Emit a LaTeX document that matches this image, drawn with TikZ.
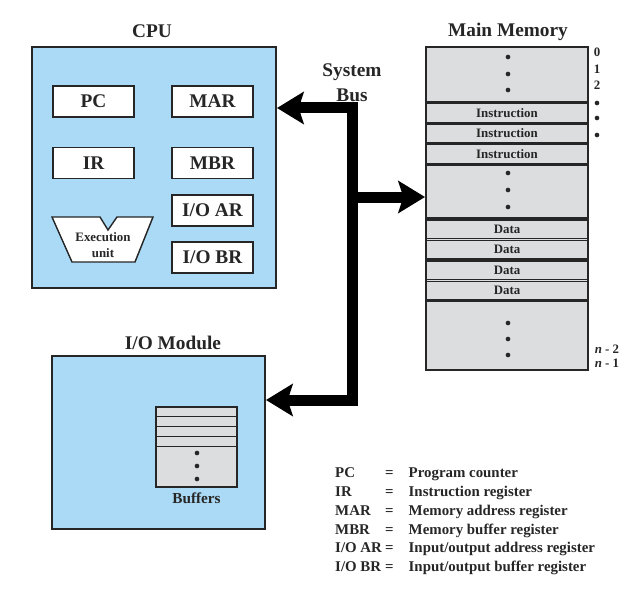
\documentclass[tikz,border=0pt]{standalone}
\usepackage{fontspec}
\setmainfont{Liberation Serif}
\usetikzlibrary{arrows.meta, positioning}
\definecolor{cpublue}{RGB}{170,218,245}
\definecolor{memgray}{RGB}{220,221,222}
\definecolor{ink}{RGB}{38,38,38}
\tikzset{
  title/.style = {font=\fontsize{16.5}{21}\selectfont\bfseries, text=ink,
                  align=center, inner sep=0},
  unit/.style  = {draw=ink, fill=cpublue, line width=1.7pt, inner sep=0},
  reg/.style   = {draw=ink, fill=white, line width=1.2pt, minimum width=2.43cm,
                  minimum height=0.93cm, inner sep=0,
                  font=\fontsize{16.5}{20}\selectfont\bfseries, text=ink},
  cell/.style  = {draw=ink, fill=memgray, line width=1.1pt, minimum width=4.86cm,
                  inner sep=0, font=\fontsize{11}{13}\selectfont\bfseries, text=ink},
  small/.style = {font=\fontsize{11}{13}\selectfont\bfseries, text=ink,
                  inner sep=0, align=center},
  dot/.style   = {circle, fill=ink, inner sep=0, minimum size=4pt},
  bus/.style   = {line width=0.33cm, black, line join=miter},
  head/.tip    = {Stealth[length=0.8cm, width=0.96cm, inset=0.15cm]}
}

\begin{document}
\begin{tikzpicture}[x=0.03cm, y=-0.03cm]
    \useasboundingbox (0,0) rectangle (636,590);

    % CPU
    \node[title] (cputitle) at (152,31) {CPU};
    \node[unit, minimum width=7.32cm, minimum height=7.23cm] (cpu) at (154,167.5) {};
    \node[reg] (pc)   at (93.5,101.5)  {PC};
    \node[reg] (mar)  at (212.5,101.5) {MAR};
    \node[reg] (ir)   at (93.5,163)    {IR};
    \node[reg] (mbr)  at (212.5,163)   {MBR};
    \node[reg] (ioar) at (212.5,210.5) {I/O AR};
    \node[reg] (iobr) at (212.5,257.5) {I/O BR};
    \draw[draw=ink, fill=white, line width=1.2pt]
        (52,217) -- (100,217) -- (108,230) -- (117,217) -- (153,217)
        -- (135,262) -- (72,262) -- cycle;
    \node[small] (exec) at (103,245) {Execution\\unit};

    % Main memory
    \node[title] (memtitle) at (508,32) {Main Memory};
    \node[unit, fill=memgray, minimum width=4.86cm, minimum height=9.69cm] (mem) at (507,208.5) {};
    \node[cell, minimum height=1.65cm] (blocka) at (507,74.5) {};
    \foreach \y [count=\i] in {113.25,133.5,153.75}
        \node[cell, minimum height=0.57cm] (ins\i) at (507,\y) {Instruction};
    \node[cell, minimum height=1.59cm] (blockb) at (507,191.5) {};
    \foreach \y [count=\i] in {229.25,249.75,270.25,290.75}
        \node[cell, minimum height=0.555cm] (dat\i) at (507,\y) {Data};
    \node[cell, minimum height=2.055cm] (blockc) at (507,335.75) {};
    \foreach \y in {57,74,90,173,190,207,323,339,355}
        \node[dot] at (508,\y) {};

    % addresses
    \node[small] (a0) at (597,52) {0};
    \node[small] (a1) at (597,69) {1};
    \node[small] (a2) at (597,85) {2};
    \foreach \y in {103,118,135}
        \node[dot] at (597,\y) {};
    \node[small] (an2) at (607,349) {\textit{n} - 2};
    \node[small] (an1) at (607,363) {\textit{n} - 1};

    % I/O module
    \node[title] (iotitle) at (173,343) {I/O Module};
    \node[unit, minimum width=6.39cm, minimum height=5.19cm] (io) at (158.5,442.5) {};
    \node[draw=ink, fill=memgray, line width=1.1pt, minimum width=2.43cm,
          minimum height=2.4cm, inner sep=0] (buf) at (196.5,447) {};
    \foreach \d in {0.3,0.6,0.9,1.2}
        \draw[ink, line width=1.1pt] ([yshift=-\d cm]buf.north west) -- ([yshift=-\d cm]buf.north east);
    \foreach \y in {453,466,479}
        \node[dot] at (197,\y) {};
    \node[small, font=\fontsize{13}{15}\selectfont\bfseries] (buflabel) at (196.5,498) {Buffers};

    % System bus
    \node[title] (buslabel) at (352,82.5) {System\\Bus};
    \coordinate (bustop) at (352,108);
    \coordinate (busmid) at (352,197);
    \coordinate (busbot) at (352,400);
    \draw[bus, head-head] (bustop -| cpu.east) -- (bustop) -- (busbot) -- (busbot -| io.east);
    \draw[bus, -head] (busmid) -- (busmid -| mem.west);

    % Legend
    \node[anchor=west, inner sep=0, text=ink, font=\fontsize{12.7}{16}\selectfont\bfseries] (legend) at (335,521) {%
      \begin{tabular}{@{}p{1.5cm}@{}l@{\hspace{0.45cm}}l@{}}
        PC     & = & Program counter\\
        IR     & = & Instruction register\\
        MAR    & = & Memory address register\\
        MBR    & = & Memory buffer register\\
        I/O AR & = & Input/output address register\\
        I/O BR & = & Input/output buffer register
      \end{tabular}};
\end{tikzpicture}
\end{document}
